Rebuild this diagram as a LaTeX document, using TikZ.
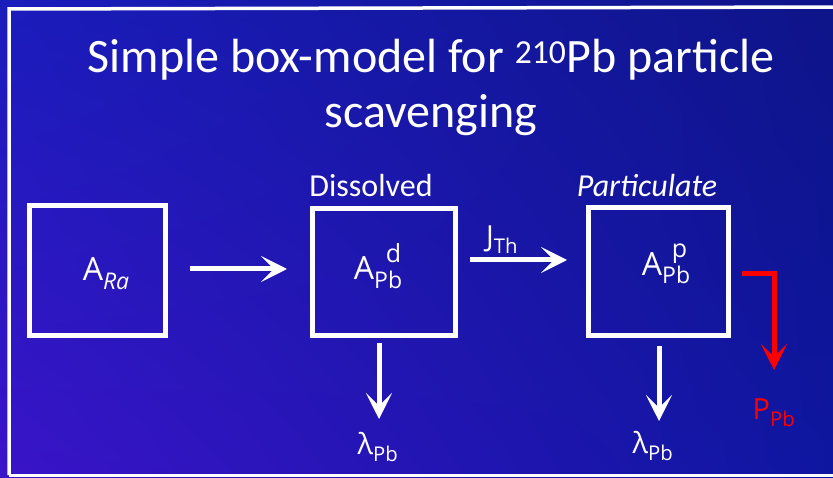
\documentclass[tikz,border=0pt]{standalone}
\usepackage{fontspec}
\setmainfont{Carlito}
\newfontfamily\labfont{Open Sans}
\usetikzlibrary{arrows.meta,shadings}
\definecolor{bgLL}{HTML}{3A14C8}
\definecolor{bgUL}{HTML}{1A1CBC}
\definecolor{bgLR}{HTML}{0E16A0}
\definecolor{bgUR}{HTML}{0E1488}
\definecolor{redarrow}{HTML}{FF0000}
\newcommand\lowsc[1]{\raisebox{-0.28em}{\fontsize{23}{24}\selectfont #1}}
\newcommand\highsc[1]{\raisebox{0.55em}{\fontsize{25}{26}\selectfont #1}}
\tikzset{
  box/.style={draw=white, line width=5pt, inner sep=0pt},
  tip/.style={-{Stealth[length=26pt,width=26pt,inset=13pt]}},
  flow/.style={draw=white, line width=5pt, tip},
  redflow/.style={draw=redarrow, line width=5pt, tip},
  lab/.style={text=white, font=\labfont\fontsize{32}{36}\selectfont, inner sep=0pt},
  small/.style={text=white, font=\labfont\fontsize{29}{32}\selectfont, inner sep=0pt},
  captext/.style={text=white, font=\fontsize{32}{36}\selectfont, inner sep=0pt},
}
\begin{document}
\begin{tikzpicture}[x=1pt,y=1pt]
\useasboundingbox (0,0) rectangle (833,477);
\shade[lower left=bgLL, upper left=bgUL, lower right=bgLR, upper right=bgUR] (0,0) rectangle (833,477);
\draw[white, line width=3.5pt] (9,2) -- (9,468) -- (840,470);
\draw[white, line width=3pt] (9,2) -- (840,2);
% title
\node[text=white, font=\fontsize{48}{55}\selectfont, align=center, inner sep=0pt] (title) at (431,390)
  {Simple box-model for \textsuperscript{210}Pb particle\\scavenging};
% boxes
\node[box, minimum width=136pt, minimum height=130pt] (ra) at (97.5,206.5) {};
\node[box, minimum width=143pt, minimum height=127pt] (pbd) at (384,205) {};
\node[box, minimum width=140pt, minimum height=128pt] (pbp) at (658.5,205.5) {};
\node[lab] (ratxt) at (106,203) {A\lowsc{\itshape Ra}};
\node[lab] (pbdtxt) at (378,211) {A\lowsc{Pb}\llap{\highsc{d}\hspace{1pt}}};
\node[lab] (pbptxt) at (666,213) {A\lowsc{Pb}\llap{\highsc{p}\hspace{3pt}}};
\node[captext] (diss) at (371,291) {Dissolved};
\node[captext, font=\itshape\fontsize{32}{36}\selectfont] (part) at (647,291) {Particulate};
% arrows
\draw[flow] (190,208) coordinate (a1s) -- (287,208) coordinate (a1e);
\draw[flow] (470,217) coordinate (a2s) -- (567,217) coordinate (a2e);
\node[small] (jth) at (502,237) {J\textsubscript{Th}};
\draw[flow] (pbd.south -| 379,0) ++(0,-5) -- ++(0,-76) coordinate (l1);
\node[small] (lam1) at (378,30) {λ\textsubscript{Pb}};
\draw[flow] (pbp.south -| 659,0) ++(0,-8) -- ++(0,-75) coordinate (l2);
\node[small] (lam2) at (653,31) {λ\textsubscript{Pb}};
\draw[redflow] (742,203) coordinate (r1) -- (774,203) -- (774,107) coordinate (r2);
\node[small, text=redarrow] (ppb) at (774,64) {P\textsubscript{Pb}};
\end{tikzpicture}
\end{document}
